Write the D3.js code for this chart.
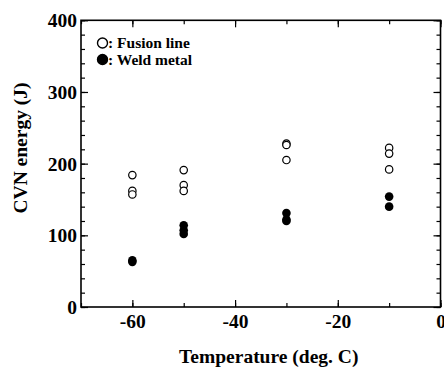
<!DOCTYPE html>
<html><head><meta charset="utf-8">
<script src="https://cdn.jsdelivr.net/npm/d3@7"></script>
<style>body{margin:0;background:#fff}svg{display:block}text{font-family:"Liberation Serif","Times New Roman",serif;font-weight:bold;fill:#000}</style>
</head><body><svg id="c" width="444" height="367"></svg>
<script>
// Data
const fusionTemps = [-60,-60,-60,-50,-50,-50,-30,-30,-30,-10,-10,-10];
const fusionCVN   = [184,162,157,191,170,162,228,226,205,222,214,192];
const weldTemps   = [-60,-60,-50,-50,-50,-30,-30,-30,-10,-10];
const weldCVN     = [63,65,114,107,102,131,122,120,154,140];
const xTicks = [-60,-40,-20,0];
const yTicks = [0,100,200,300,400];
const legendLabels = [": Fusion line", ": Weld metal"];
const xTitle = "Temperature (deg. C)";
const yTitle = "CVN energy (J)";

const W=444,H=367, m={l:81,r:3.5,t:20.3,b:60};
const svg=d3.select("#c");
const x=d3.scaleLinear().domain([-70,0]).range([m.l,W-m.r]);
const y=d3.scaleLinear().domain([0,400]).range([H-m.b,m.t]);
const g=svg.append("g");

function ticks(axisGen, transform){
  const a=g.append("g").attr("transform",transform).call(axisGen);
  a.select(".domain").remove();
  a.selectAll("line").attr("stroke","#000").attr("stroke-width",1.2);
  return a;
}
// minor ticks
const xMinor=d3.range(-70,1,10), yMinor=d3.range(0,401,20);
ticks(d3.axisTop(x).tickValues(xMinor).tickSize(4).tickFormat(""),`translate(0,${y(0)})`);
ticks(d3.axisBottom(x).tickValues(xMinor).tickSize(4).tickFormat(""),`translate(0,${y(400)})`);
ticks(d3.axisRight(y).tickValues(yMinor).tickSize(4).tickFormat(""),`translate(${x(-70)},0)`);
ticks(d3.axisLeft(y).tickValues(yMinor).tickSize(4).tickFormat(""),`translate(${x(0)},0)`);
// major ticks
ticks(d3.axisTop(x).tickValues(xTicks).tickSize(7).tickFormat(""),`translate(0,${y(0)})`);
ticks(d3.axisBottom(x).tickValues(xTicks).tickSize(7).tickFormat(""),`translate(0,${y(400)})`);
ticks(d3.axisRight(y).tickValues(yTicks).tickSize(7).tickFormat(""),`translate(${x(-70)},0)`);
ticks(d3.axisLeft(y).tickValues(yTicks).tickSize(7).tickFormat(""),`translate(${x(0)},0)`);
// labels
const fmt = d => String(d);
const xl=g.append("g").attr("transform",`translate(0,${y(0)})`).call(d3.axisBottom(x).tickValues(xTicks).tickSize(0).tickPadding(20).tickFormat(fmt));
xl.select(".domain").remove();
xl.selectAll("text").attr("font-size",19.5).attr("dy",0).attr("y",20.5).style("font-family",'"Liberation Serif",serif').style("font-weight","bold");
const yl=g.append("g").attr("transform",`translate(${x(-70)},0)`).call(d3.axisLeft(y).tickValues(yTicks).tickSize(0).tickPadding(4).tickFormat(fmt));
yl.select(".domain").remove();
yl.selectAll("text").attr("font-size",19.5).attr("dy","0.34em").style("font-family",'"Liberation Serif",serif').style("font-weight","bold");

// frame
g.append("rect").attr("x",x(-70)).attr("y",y(400)).attr("width",x(0)-x(-70)).attr("height",y(0)-y(400))
 .attr("fill","none").attr("stroke","#000").attr("stroke-width",1.6);

// points
g.append("g").selectAll("circle").data(fusionCVN).join("circle")
 .attr("cx",(d,i)=>x(fusionTemps[i])).attr("cy",d=>y(d)).attr("r",3.7)
 .attr("fill","#fff").attr("stroke","#000").attr("stroke-width",1.2);
g.append("g").selectAll("circle").data(weldCVN).join("circle")
 .attr("cx",(d,i)=>x(weldTemps[i])).attr("cy",d=>y(d)).attr("r",4.3)
 .attr("fill","#000");

// legend
const lg=g.append("g");
legendLabels.forEach((t,i)=>{
  const cy=43+i*16.5;
  lg.append("circle").attr("cx",102.5).attr("cy",cy).attr("r",5)
    .attr("fill",i?"#000":"#fff").attr("stroke","#000").attr("stroke-width",1.4);
  lg.append("text").attr("x",108).attr("y",cy+5).attr("font-size",15.5).text(t);
});

// titles
svg.append("text").attr("x",(x(-70)+x(0))/2+8).attr("y",363).attr("text-anchor","middle").attr("font-size",19.5).text(xTitle);
svg.append("text").attr("transform",`translate(27,148) rotate(-90)`).attr("text-anchor","middle").attr("font-size",19.5).text(yTitle);
</script></body></html>
